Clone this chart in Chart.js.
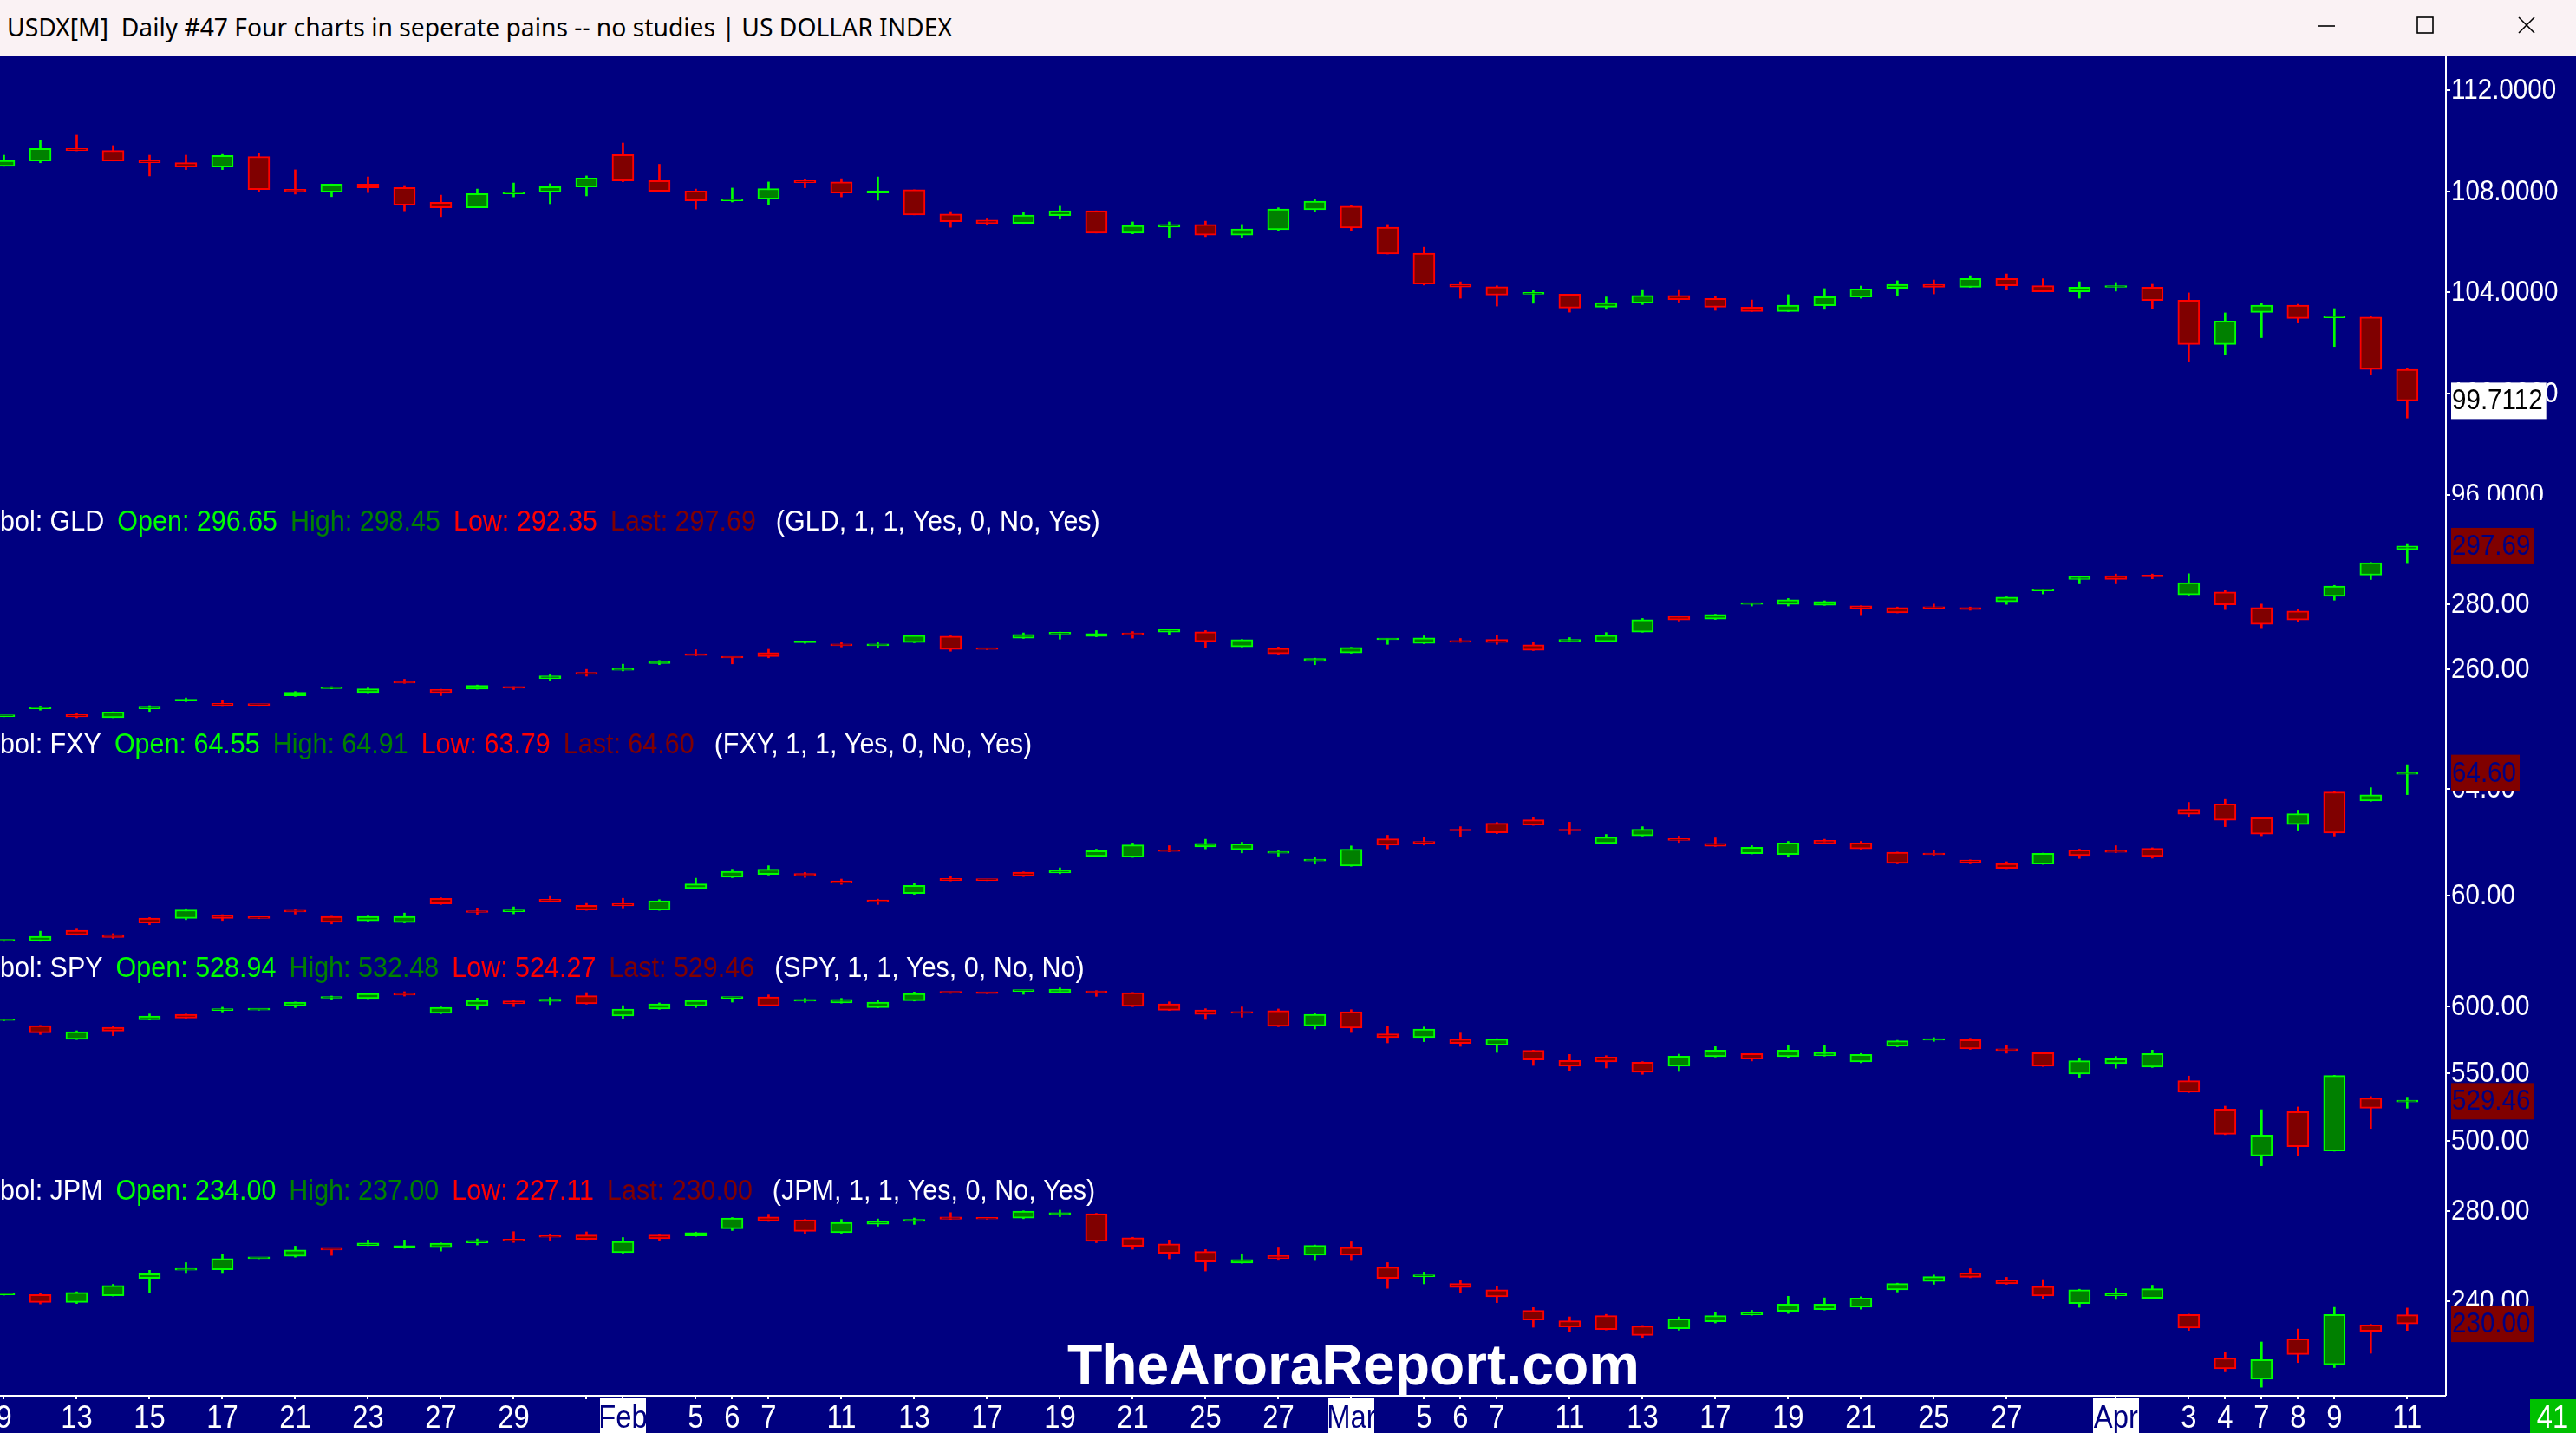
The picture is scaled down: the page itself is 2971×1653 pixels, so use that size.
<!DOCTYPE html>
<html>
<head>
<meta charset="utf-8">
<script src="https://cdn.jsdelivr.net/npm/chart.js@4.4.1/dist/chart.umd.min.js"></script>
<style>
  html, body { margin: 0; padding: 0; background: #000080; overflow: hidden; }
  body { width: 2971px; height: 1653px; position: relative; }
  #titlebar { position: absolute; left: 0; top: 0; width: 2971px; height: 65px; background: #FAF2F4; }
  #title { position: absolute; left: 8px; top: 11px; font-size: 29px; font-family: "Noto Sans", "Open Sans", sans-serif; color: #000; white-space: pre; transform-origin: left top; }
  #controls { position: absolute; left: 0; top: 0; }
  #wrap { position: absolute; left: 0; top: 65px; width: 2971px; height: 1588px; }
</style>
</head>
<body>
<div id="titlebar">
  <div id="title">USDX[M]  Daily #47 Four charts in seperate pains -- no studies | US DOLLAR INDEX</div>
  <svg id="controls" width="2971" height="65">
    <g stroke="#000" stroke-width="1.6" fill="none">
      <line x1="2673" y1="30" x2="2693" y2="30"/>
      <rect x="2788" y="20" width="18" height="18"/>
      <line x1="2905" y1="20" x2="2923" y2="38"/>
      <line x1="2923" y1="20" x2="2905" y2="38"/>
    </g>
  </svg>
</div>
<div id="wrap"><canvas id="chart" width="2971" height="1588"></canvas></div>
<script>
// trading sessions shown on the chart (one candle each)
const sessions = [
  '2025-01-09','2025-01-10','2025-01-13','2025-01-14','2025-01-15','2025-01-16','2025-01-17','2025-01-20',
  '2025-01-21','2025-01-22','2025-01-23','2025-01-24','2025-01-27','2025-01-28','2025-01-29','2025-01-30','2025-01-31',
  '2025-02-03','2025-02-04','2025-02-05','2025-02-06','2025-02-07','2025-02-10','2025-02-11','2025-02-12','2025-02-13',
  '2025-02-14','2025-02-17','2025-02-18','2025-02-19','2025-02-20','2025-02-21','2025-02-24','2025-02-25','2025-02-26',
  '2025-02-27','2025-02-28','2025-03-03','2025-03-04','2025-03-05','2025-03-06','2025-03-07','2025-03-10','2025-03-11',
  '2025-03-12','2025-03-13','2025-03-14','2025-03-17','2025-03-18','2025-03-19','2025-03-20','2025-03-21','2025-03-24',
  '2025-03-25','2025-03-26','2025-03-27','2025-03-28','2025-03-31','2025-04-01','2025-04-02','2025-04-03','2025-04-04',
  '2025-04-07','2025-04-08','2025-04-09','2025-04-10','2025-04-11'
];

// bottom axis: session index -> label
const xTickIndex = [0,2,4,6,8,10,12,14,16,17,19,20,21,23,25,27,29,31,33,35,37,39,40,41,43,45,47,49,51,53,55,58,60,61,62,63,64,66];
const xTickText = ['9','13','15','17','21','23','27','29','','Feb','5','6','7','11','13','17','19','21','25','27',
  'Mar','5','6','7','11','13','17','19','21','25','27','Apr','3','4','7','8','9','11'];
const monthNames = ['Feb', 'Mar', 'Apr'];

// price axis ticks per pane
const usdxTicks = [96, 100, 104, 108, 112];
const gldTicks = [260, 280];
const fxyTicks = [60, 64];
const spyTicks = [500, 550, 600];
const jpmTicks = [240, 280];

// USDX[M]
const usdxOpen = [108.99,109.20,109.69,109.62,109.21,109.14,108.96,109.38,108.08,107.97,108.29,108.15,107.57,107.35,107.90,107.97,108.17,
  109.45,108.42,108.01,107.62,107.69,108.42,108.37,107.93,108.06,107.10,106.86,106.73,107.04,107.23,106.35,106.59,106.69,106.27,106.48,107.27,
  107.41,106.58,105.55,104.32,104.22,103.93,103.93,103.41,103.58,103.88,103.76,103.42,103.24,103.47,103.82,104.16,104.32,104.20,104.55,104.27,
  104.02,104.20,104.21,103.69,101.94,103.21,103.49,102.99,103.02,100.96];
const usdxHigh = [109.43,110.01,110.22,109.81,109.43,109.43,109.46,109.50,108.85,108.29,108.57,108.23,107.85,108.09,108.33,108.30,108.61,
  109.91,109.07,108.09,108.13,108.37,108.48,108.50,108.57,108.06,107.20,106.91,107.17,107.41,107.23,106.79,106.79,106.82,106.69,107.35,107.69,
  107.46,106.69,105.79,104.42,104.26,104.08,103.93,103.82,104.11,104.11,103.85,103.70,103.91,104.15,104.25,104.46,104.49,104.66,104.73,104.54,
  104.42,104.39,104.32,103.98,103.19,103.58,103.53,103.36,103.05,101.01];
const usdxLow = [108.99,109.13,109.60,109.20,108.61,108.86,108.86,107.97,107.89,107.79,107.95,107.23,107.00,107.35,107.78,107.51,107.82,
  108.38,107.97,107.30,107.58,107.47,108.14,107.78,107.65,107.07,106.58,106.66,106.73,106.90,106.35,106.32,106.15,106.21,106.17,106.45,107.20,
  106.45,105.52,104.29,103.77,103.46,103.57,103.22,103.33,103.52,103.58,103.29,103.24,103.24,103.33,103.77,103.85,103.94,104.20,104.09,104.02,
  103.77,104.05,103.36,101.28,101.55,102.21,102.79,101.86,100.73,99.03];
const usdxClose = [109.22,109.69,109.61,109.20,109.13,108.96,109.42,108.07,107.97,108.29,108.14,107.45,107.35,107.91,107.98,108.18,108.53,
  108.41,108.00,107.62,107.70,108.11,108.34,107.93,108.02,107.07,106.80,106.73,107.06,107.23,106.35,106.65,106.69,106.27,106.51,107.30,107.61,
  106.55,105.52,104.33,104.21,103.89,103.94,103.38,103.60,103.88,103.71,103.41,103.24,103.49,103.83,104.14,104.32,104.20,104.55,104.26,104.02,
  104.21,104.21,103.68,101.94,102.87,103.49,102.97,103.00,100.95,99.7112];

// GLD
const gldOpen = [245.65,248.00,246.23,245.34,247.99,250.40,249.67,249.20,251.96,254.20,253.00,255.98,253.90,254.07,254.45,257.25,259.19,
  259.80,261.83,264.40,263.65,265.19,268.20,267.83,267.30,268.27,270.21,266.25,269.59,270.85,270.10,270.80,271.45,271.53,266.95,266.51,262.54,
  265.10,269.10,268.00,268.45,269.24,267.57,268.54,268.54,271.45,276.30,275.41,279.90,279.90,279.65,279.47,278.94,278.80,278.94,280.71,284.00,
  287.50,288.64,288.40,282.82,283.70,278.94,277.88,282.38,288.82,296.65];
const gldHigh = [245.75,248.87,246.80,247.10,249.00,251.34,250.70,249.25,253.30,254.80,254.40,257.07,254.00,255.30,254.80,258.50,260.07,
  261.66,262.80,266.07,263.80,266.20,268.70,268.40,268.40,270.50,270.30,266.30,271.20,271.45,271.90,271.60,272.40,271.90,269.20,266.90,263.50,
  266.80,269.40,270.30,269.50,270.56,268.40,269.77,271.30,275.60,276.40,276.90,280.35,281.70,281.00,279.50,279.10,280.00,279.10,282.20,284.60,
  288.40,289.17,289.17,289.26,284.10,280.00,278.40,285.70,292.70,298.45];
const gldLow = [245.60,247.60,245.30,245.30,247.20,250.20,249.00,249.05,251.80,254.10,252.90,255.80,252.05,254.00,253.90,256.60,258.00,
  259.60,261.50,264.20,261.75,263.60,268.00,266.90,266.70,268.20,265.60,266.10,269.50,269.30,270.00,269.60,270.60,266.77,266.90,264.70,261.50,
  265.00,267.70,267.90,268.30,267.70,265.80,268.40,268.50,271.40,274.80,275.30,279.40,279.40,279.60,276.74,277.30,278.50,278.10,279.90,283.10,
  286.17,286.17,287.70,282.70,278.32,272.77,274.60,281.20,287.50,292.35];
const gldClose = [245.70,248.10,245.60,247.02,248.87,250.50,249.05,249.10,253.10,254.40,254.16,255.88,253.00,255.22,254.30,258.13,258.57,
  259.90,262.63,264.30,263.55,263.95,268.35,267.30,267.65,270.48,266.16,266.15,270.74,270.95,271.00,270.65,272.33,268.54,269.15,264.83,263.42,
  266.77,269.20,269.68,268.35,268.27,265.89,269.24,270.48,275.24,275.15,276.83,280.05,281.32,280.80,278.59,277.35,278.70,278.32,282.12,284.10,
  288.38,287.50,288.30,286.53,279.74,273.83,275.15,285.47,292.61,297.69];

// FXY
const fxyOpen = [58.31,58.31,58.71,58.55,59.17,59.16,59.26,59.18,59.42,59.23,59.07,59.00,59.91,59.40,59.41,59.87,59.65,
  59.72,59.47,60.28,60.70,60.80,60.84,60.56,59.85,60.09,60.65,60.59,60.89,60.86,61.48,61.45,61.68,61.83,61.73,61.60,61.31,
  61.12,62.14,62.04,62.45,62.72,62.85,62.45,61.96,62.25,62.10,61.97,61.58,61.55,62.08,61.98,61.63,61.56,61.34,61.21,61.19,
  61.72,61.65,61.78,63.24,63.44,62.92,62.67,63.89,63.55,64.55];
const fxyHigh = [58.34,58.68,58.76,58.59,59.19,59.52,59.30,59.19,59.48,59.24,59.25,59.36,59.93,59.55,59.59,60.01,59.72,
  59.91,59.86,60.66,61.00,61.13,60.88,60.63,59.88,60.47,60.73,60.60,60.90,61.05,61.75,61.98,61.88,62.12,62.01,61.70,61.43,
  61.87,62.27,62.19,62.59,62.75,62.95,62.76,62.30,62.59,62.24,62.17,61.88,62.04,62.12,62.04,61.64,61.70,61.35,61.28,61.60,
  61.75,61.88,61.80,63.50,63.61,62.94,63.21,63.90,64.05,64.91];
const fxyLow = [58.30,58.30,58.53,58.41,58.92,59.11,59.08,59.15,59.32,58.95,59.05,58.99,59.68,59.29,59.33,59.78,59.46,
  59.55,59.46,60.27,60.68,60.78,60.69,60.43,59.68,60.06,60.56,60.57,60.72,60.83,61.46,61.44,61.65,61.76,61.61,61.49,61.19,
  61.11,61.76,61.90,62.20,62.33,62.64,62.31,61.94,62.24,62.00,61.85,61.57,61.45,61.95,61.75,61.20,61.52,61.20,61.02,61.18,
  61.40,61.62,61.41,62.95,62.59,62.25,62.43,62.24,63.54,63.79];
const fxyClose = [58.33,58.49,58.54,58.44,58.99,59.48,59.16,59.16,59.40,59.01,59.23,59.23,59.70,59.38,59.43,59.80,59.47,
  59.63,59.82,60.45,60.92,61.00,60.74,60.48,59.77,60.39,60.58,60.58,60.74,60.95,61.69,61.91,61.66,61.97,61.95,61.62,61.33,
  61.75,61.90,61.97,62.43,62.36,62.65,62.43,62.20,62.49,62.08,61.86,61.82,61.98,61.96,61.76,61.22,61.54,61.24,61.03,61.59,
  61.51,61.63,61.48,63.06,62.83,62.31,63.08,62.35,63.78,64.60];

// SPY
const spyOpen = [589.5,585.81,575.48,584.52,590.11,594.19,597.0,597.3,600.43,606.1,605.81,609.89,594.84,600.6,604.1,603.7,607.96,
  592.9,598.06,600.43,606.0,607.1,603.9,602.6,599.1,604.3,610.2,609.75,611.2,610.3,611.6,610.3,601.94,597.4,596.3,596.8,585.6,
  596.1,579.6,576.8,575.7,571.2,567.3,559.8,562.4,558.5,555.5,562.6,564.9,562.6,563.2,558.7,570.3,574.8,575.3,567.4,565.6,
  549.7,557.4,554.8,544.7,523.7,488.8,521.7,492.5,531.8,528.94];
const spyHigh = [589.8,585.9,581.9,585.4,594.4,594.4,599.4,597.6,603.3,607.74,610.0,610.97,599.6,606.2,604.9,606.7,610.3,
  600.6,602.6,604.7,606.6,608.6,606.0,606.0,604.7,610.75,610.5,609.8,611.6,613.76,611.8,610.4,603.4,598.3,599.6,598.1,594.6,
  597.6,585.4,584.7,580.2,576.0,567.5,564.3,563.4,558.9,564.5,570.1,565.0,571.4,571.0,565.0,574.8,576.8,576.3,571.2,566.0,
  561.1,562.8,567.5,548.2,525.8,523.2,525.2,548.8,533.0,532.48];
const spyLow = [589.4,579.1,575.3,578.3,589.9,591.2,595.9,597.2,599.1,605.4,605.7,607.7,594.6,597.8,599.8,601.3,601.7,
  591.0,597.8,599.1,603.2,600.2,603.0,602.4,598.9,604.0,609.7,609.5,609.0,610.1,607.5,599.8,597.0,590.3,592.0,584.9,583.2,
  580.6,572.9,573.8,570.3,565.8,556.1,552.3,554.2,549.5,551.6,562.4,559.4,562.0,563.0,558.1,570.0,574.0,568.0,565.2,555.3,
  546.9,554.0,554.6,535.9,504.6,481.5,489.2,492.3,509.2,524.27];
const spyClose = [589.7,580.43,581.29,581.72,592.9,591.4,597.4,597.5,603.23,606.3,609.68,608.4,599.35,604.5,601.9,605.4,601.94,
  598.06,601.94,604.52,606.4,600.43,605.2,605.2,603.2,609.68,610.0,609.6,611.5,612.9,610.3,600.0,597.2,594.0,594.8,585.2,594.2,
  583.9,576.8,583.2,572.5,575.7,560.2,555.5,558.7,551.0,563.0,567.5,560.9,567.5,565.6,564.3,574.4,576.1,568.4,567.2,555.5,
  559.6,561.1,564.9,536.1,504.9,504.3,495.7,548.6,524.3,529.46];

// JPM
const jpmOpen = [242.8,242.93,239.48,242.42,250.09,253.8,253.93,258.85,259.93,262.8,264.66,263.5,263.77,265.81,266.9,268.5,269.3,
  261.5,269.3,268.9,272.1,277.3,276.0,270.3,274.1,275.3,277.3,276.45,276.8,278.3,278.7,268.1,265.4,262.0,256.9,260.2,260.4,
  263.9,255.1,250.9,247.8,245.1,236.0,231.4,233.7,229.1,227.9,230.9,234.0,235.5,236.3,237.4,245.0,248.8,252.5,249.5,246.6,
  239.0,242.4,241.3,234.1,214.9,205.5,223.4,212.0,229.5,234.00];
const jpmHigh = [243.0,243.6,244.2,247.5,253.7,257.1,260.6,259.0,264.4,262.9,267.1,267.1,265.8,267.6,270.8,269.5,270.7,
  268.2,269.5,270.6,277.0,278.5,276.2,276.2,276.4,276.8,279.2,276.5,280.0,280.3,278.9,268.3,267.1,262.9,261.0,263.6,264.9,
  266.3,257.1,252.9,249.1,246.6,237.2,233.1,234.2,229.3,233.1,235.2,236.0,242.2,241.5,242.0,248.0,251.6,254.4,250.6,249.6,
  245.3,245.6,247.1,234.3,217.4,222.0,227.7,237.3,229.8,237.00];
const jpmLow = [242.7,238.8,239.0,242.3,243.83,252.3,252.3,258.8,259.5,260.3,264.6,263.4,262.2,264.9,266.0,266.7,267.3,
  261.3,266.7,268.7,271.3,275.3,269.9,270.1,273.2,274.0,276.2,276.3,276.5,277.4,265.9,263.0,258.8,253.4,256.8,258.1,258.0,
  258.0,245.7,247.7,243.8,239.4,228.5,226.6,227.3,224.0,227.2,230.4,233.8,234.6,236.1,236.5,244.1,247.5,250.4,247.5,241.3,
  237.3,240.8,241.1,227.1,208.8,202.0,212.9,210.7,217.0,227.11];
const jpmClose = [242.93,239.48,243.96,247.02,252.14,254.0,258.91,258.95,262.75,262.7,265.81,264.66,265.69,266.96,266.7,268.3,267.4,
  266.45,267.7,270.4,276.8,275.5,270.9,274.9,275.3,276.2,276.3,276.35,279.9,279.2,266.5,264.3,261.2,257.4,258.5,258.9,264.7,
  260.4,250.1,251.1,246.1,242.0,231.7,228.6,227.5,224.9,232.2,233.7,235.0,238.7,238.7,241.4,247.8,250.9,250.6,247.7,242.3,
  245.1,243.3,245.5,228.2,210.1,214.2,216.5,234.1,226.7,230.00];

const NAVY = '#000080';
const UP_EDGE = '#00FF00', UP_FILL = '#008000', DN_EDGE = '#FF0000', DN_FILL = '#800000';
const SANS = '"Liberation Sans", Arial, sans-serif';
const SQUEEZE = 0.91; // the terminal font is a slightly condensed Arial

const panes = [
  { id: 'yUSDX', sym: 'USDX', o: usdxOpen, h: usdxHigh, l: usdxLow, c: usdxClose, ticks: usdxTicks, dp: 4,
    min: 95.78, max: 113.34, weight: 512, boxBg: '#FFFFFF', boxFg: '#000000' },
  { id: 'yGLD', sym: 'GLD', o: gldOpen, h: gldHigh, l: gldLow, c: gldClose, ticks: gldTicks, dp: 2,
    min: 243.7, max: 311.7, weight: 257, boxBg: '#800000', boxFg: NAVY, flag: 'Yes' },
  { id: 'yFXY', sym: 'FXY', o: fxyOpen, h: fxyHigh, l: fxyLow, c: fxyClose, ticks: fxyTicks, dp: 2,
    min: 58.10, max: 66.47, weight: 258, boxBg: '#800000', boxFg: NAVY, flag: 'Yes' },
  { id: 'ySPY', sym: 'SPY', o: spyOpen, h: spyHigh, l: spyLow, c: spyClose, ticks: spyTicks, dp: 2,
    min: 478.7, max: 644.5, weight: 257, boxBg: '#800000', boxFg: NAVY, flag: 'No' },
  { id: 'yJPM', sym: 'JPM', o: jpmOpen, h: jpmHigh, l: jpmLow, c: jpmClose, ticks: jpmTicks, dp: 2,
    min: 198.6, max: 298.3, weight: 260, boxBg: '#800000', boxFg: NAVY, flag: 'Yes' }
];

const datasets = [];
const scales = {
  x: {
    type: 'linear',
    position: 'bottom',
    min: -0.107,
    max: 67.04,
    offset: false,
    grid: { display: false, drawTicks: false },
    border: { display: false },
    afterBuildTicks: (s) => { s.ticks = xTickIndex.map(v => ({ value: v })); },
    afterFit: (s) => { s.height = 44; s.paddingLeft = 0; s.paddingRight = 0; },
    ticks: { display: false, autoSkip: false, callback: (v) => xTickText[xTickIndex.indexOf(v)] }
  }
};

panes.forEach((p) => {
  const up = (i) => p.c[i] >= p.o[i];
  datasets.push({
    type: 'bar',
    yAxisID: p.id,
    data: p.h.map((h, i) => ({ x: i, y: [p.l[i], h] })),
    barThickness: 2,
    backgroundColor: (ctx) => up(ctx.dataIndex) ? UP_EDGE : DN_EDGE,
    grouped: false,
    order: 2
  });
  datasets.push({
    type: 'bar',
    yAxisID: p.id,
    data: p.o.map((o, i) => ({ x: i, y: [o, p.c[i]] })),
    barThickness: 25,
    minBarLength: 2,
    borderWidth: 2,
    borderSkipped: false,
    backgroundColor: (ctx) => up(ctx.dataIndex) ? UP_FILL : DN_FILL,
    borderColor: (ctx) => up(ctx.dataIndex) ? UP_EDGE : DN_EDGE,
    grouped: false,
    order: 1
  });
  scales[p.id] = {
    type: 'linear',
    position: 'right',
    stack: 'panes',
    stackWeight: p.weight,
    min: p.min,
    max: p.max,
    offset: false,
    grid: { display: false, drawTicks: false },
    border: { display: false },
    afterBuildTicks: (s) => { s.ticks = p.ticks.map(v => ({ value: v })); },
    afterFit: (s) => { s.width = 151; s.paddingTop = 0; s.paddingBottom = 0; },
    ticks: { display: false, autoSkip: false, callback: (v) => v.toFixed(p.dp) }
  };
});

// text in the terminal's condensed face; returns drawn width
function squeezed(ctx, text, x, y) {
  ctx.save();
  ctx.translate(x, y);
  ctx.scale(SQUEEZE, 1);
  ctx.fillText(text, 0, 0);
  ctx.restore();
  return ctx.measureText(text).width * SQUEEZE;
}

function drawLegend(ctx, p, y) {
  const n = p.c.length - 1;
  ctx.font = '33.5px ' + SANS;
  ctx.textAlign = 'left';
  ctx.textBaseline = 'alphabetic';
  const parts = [
    ['Symbol: ' + p.sym, '#FFFFFF', 15],
    ['Open: ' + p.o[n].toFixed(2), '#00FF00', 15],
    ['High: ' + p.h[n].toFixed(2), '#008000', 15],
    ['Low: ' + p.l[n].toFixed(2), '#FF0000', 15],
    ['Last: ' + p.c[n].toFixed(2), '#800000', 23],
    ['(' + p.sym + ', 1, 1, Yes, 0, No, ' + p.flag + ')', '#FFFFFF', 0]
  ];
  let x = -ctx.measureText('Sym').width * SQUEEZE;
  parts.forEach(([t, col, gap]) => {
    ctx.fillStyle = col;
    x += squeezed(ctx, t, x, y) + gap;
  });
}

const decorations = {
  id: 'decorations',
  beforeDraw(chart) {
    const ctx = chart.ctx, xs = chart.scales.x;
    ctx.save();
    ctx.fillStyle = NAVY;
    ctx.fillRect(0, 0, chart.width, chart.height);
    ctx.fillStyle = '#FFFFFF';
    xs.ticks.forEach(t => {
      if (monthNames.includes(t.label)) {
        const px = Math.round(xs.getPixelForValue(t.value));
        ctx.fillRect(px - 26, xs.top + 4, 53, chart.height - xs.top - 4);
      }
    });
    ctx.restore();
  },
  afterDraw(chart) {
    const ctx = chart.ctx, area = chart.chartArea, xs = chart.scales.x;
    ctx.save();

    // price axis labels
    ctx.font = '32.5px ' + SANS;
    ctx.textAlign = 'left';
    ctx.textBaseline = 'middle';
    ctx.fillStyle = '#FFFFFF';
    panes.forEach(p => {
      const s = chart.scales[p.id];
      s.ticks.forEach(t => squeezed(ctx, t.label, area.right + 7, s.getPixelForValue(t.value) + 1));
    });
    // the top pane label that runs into the next pane is cut off there
    ctx.fillStyle = NAVY;
    ctx.fillRect(area.right + 2, chart.scales.yUSDX.bottom, chart.width - area.right, 16);

    // date labels
    ctx.font = '36px ' + SANS;
    ctx.textAlign = 'center';
    ctx.textBaseline = 'alphabetic';
    xs.ticks.forEach(t => {
      ctx.fillStyle = monthNames.includes(t.label) ? NAVY : '#FFFFFF';
      squeezed(ctx, t.label, xs.getPixelForValue(t.value), area.bottom + 38);
    });

    ctx.strokeStyle = '#FFFFFF';
    ctx.lineWidth = 2;
    ctx.beginPath();
    ctx.moveTo(area.right + 1, 0);
    ctx.lineTo(area.right + 1, area.bottom + 1);
    ctx.moveTo(0, area.bottom + 1);
    ctx.lineTo(area.right + 1, area.bottom + 1);
    xs.ticks.forEach(t => {
      const px = Math.round(xs.getPixelForValue(t.value));
      ctx.moveTo(px, area.bottom + 1);
      ctx.lineTo(px, area.bottom + 5);
    });
    panes.forEach(p => {
      const s = chart.scales[p.id];
      s.ticks.forEach(t => {
        const py = Math.round(s.getPixelForValue(t.value));
        ctx.moveTo(area.right + 1, py);
        ctx.lineTo(area.right + 6, py);
      });
    });
    ctx.stroke();

    // last price boxes
    ctx.font = '32.5px ' + SANS;
    ctx.textAlign = 'left';
    ctx.textBaseline = 'middle';
    panes.forEach(p => {
      const s = chart.scales[p.id];
      const last = p.c[p.c.length - 1];
      const txt = last.toFixed(p.dp);
      const py = s.getPixelForValue(last);
      const w = ctx.measureText(txt).width * SQUEEZE + 5;
      ctx.fillStyle = p.boxBg;
      ctx.fillRect(area.right + 7, py - 21, w, 42);
      ctx.fillStyle = p.boxFg;
      squeezed(ctx, txt, area.right + 8, py + 1);
    });

    // pane legends
    panes.slice(1).forEach(p => drawLegend(ctx, p, chart.scales[p.id].top + 34.5));

    // watermark
    ctx.font = 'bold 66px ' + SANS;
    ctx.textAlign = 'center';
    ctx.textBaseline = 'alphabetic';
    ctx.fillStyle = '#FFFFFF';
    ctx.fillText('TheAroraReport.com', 1561, area.bottom - 12);

    // bar counter box
    ctx.fillStyle = '#00C000';
    ctx.fillRect(2918, area.bottom + 5, 53, chart.height - area.bottom - 5);
    ctx.fillStyle = '#FFFFFF';
    ctx.font = '36px ' + SANS;
    ctx.textAlign = 'center';
    squeezed(ctx, String(sessions.length - 26), 2944, area.bottom + 38);
    ctx.restore();
  }
};

new Chart(document.getElementById('chart').getContext('2d'), {
  type: 'bar',
  data: { datasets },
  options: {
    responsive: false,
    animation: false,
    events: [],
    layout: { padding: 0 },
    plugins: { legend: { display: false }, tooltip: { enabled: false }, title: { display: false } },
    scales
  },
  plugins: [decorations]
});

const title = document.getElementById('title');
title.style.transform = 'scaleX(' + (1090 / title.getBoundingClientRect().width) + ')';
</script>
</body>
</html>
